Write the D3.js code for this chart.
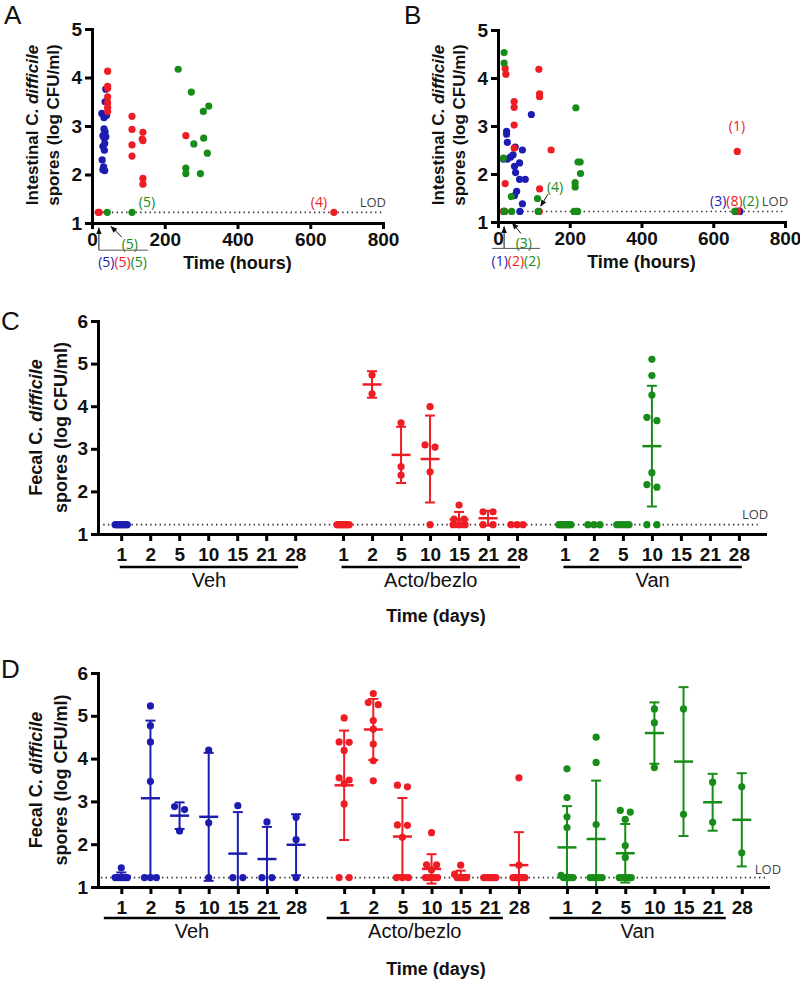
<!DOCTYPE html>
<html><head><meta charset="utf-8">
<script src="https://cdn.jsdelivr.net/npm/d3@7"></script>
<style>body{margin:0;background:#fff}svg{display:block}</style>
</head><body>
<svg id="chart" width="800" height="982"></svg>
<script>
// ---------------- DATA ----------------
const LOD = 1.22;
const hourTicks = [0, 200, 400, 600, 800];
const logTicksAB = [1, 2, 3, 4, 5];
const logTicksCD = [1, 2, 3, 4, 5, 6];
const days = ["1", "2", "5", "10", "15", "21", "28"];
const groups = ["Veh", "Acto/bezlo", "Van"];

// Panel A: [hours, log CFU/ml]
const aVeh = [[38,3.76],[36,3.50],[27,3.26],[33,3.17],[40,3.22],[33,2.94],[36,2.88],[30,2.80],[38,2.78],[33,2.76],[35,2.64],[30,2.58],[34,2.50],[28,2.30],[32,2.16],[30,2.10],[35,2.08]];
const aActo = [[17,1.22],[20,1.22],[43,4.13],[43,3.82],[43,3.78],[43,3.60],[43,3.48],[43,3.38],[43,3.30],[110,3.20],[110,2.93],[110,2.61],[110,2.38],[140,2.87],[138,2.73],[140,2.70],[140,1.92],[140,1.80],[258,2.80],[665,1.22]];
const aVan = [[42,1.22],[110,1.22],[237,4.17],[273,3.70],[258,2.13],[258,2.02],[280,2.63],[298,2.02],[306,3.30],[307,2.75],[321,3.41],[317,2.44]];

// Panel B
const bVeh = [[93,3.24],[24,2.89],[24,2.83],[26,2.66],[48,2.56],[68,2.50],[42,2.40],[35,2.35],[26,2.31],[15,2.31],[46,2.16],[49,2.03],[60,2.23],[60,1.89],[76,1.89],[52,1.64],[46,1.55],[68,1.38],[61,1.22],[17,1.22],[670,1.22],[672,1.22],[674,1.22]];
const bActo = [[20,4.20],[22,4.08],[45,3.51],[45,3.39],[45,3.02],[45,2.54],[20,1.80],[114,4.18],[116,3.67],[116,3.61],[148,2.50],[116,1.69],[15,1.22],[19,1.22],[115,1.22],[667,2.47],[662,1.22],[664,1.22],[666,1.22],[668,1.22]];
const bVan = [[17,4.53],[17,4.31],[15,2.33],[37,1.53],[110,1.49],[217,3.38],[223,2.25],[229,2.25],[230,2.01],[215,1.82],[215,1.73],[17,1.22],[38,1.22],[112,1.22],[212,1.22],[218,1.22],[222,1.22],[660,1.22]];

// Panel C: values per day (1,2,5,10,15,21,28)
const cVeh = [[1.22,1.22,1.22,1.22,1.22,1.22,1.22,1.22],[],[],[],[],[],[]];
const cActo = [[1.22,1.22,1.22,1.22,1.22,1.22,1.22,1.22],[4.73,4.29],[3.61,2.58,2.38],[3.99,3.09,3.04,2.46,1.22],[1.68,1.35,1.35,1.22,1.22,1.22],[1.52,1.52,1.22,1.22],[1.22,1.22,1.22]];
const cVan = [[1.22,1.22,1.22,1.22,1.22,1.22,1.22,1.22],[1.22,1.22,1.22],[1.22,1.22,1.22,1.22,1.22],[5.10,4.72,4.26,3.74,3.66,2.44,2.16,2.10,1.22,1.22],[],[],[]];

// Panel D
const dVeh = [[1.45,1.22,1.22,1.22,1.22,1.22,1.22],[5.23,4.77,4.39,3.47,1.22,1.22,1.22],[2.88,2.81,2.31],[4.20,2.50,1.22],[2.90,1.22,1.22],[2.52,1.22,1.22],[2.63,2.11,1.22]];
const dActo = [[4.95,4.39,4.38,4.19,3.55,3.50,3.42,2.94,1.22,1.22],[5.52,5.31,5.26,4.89,4.69,4.34,3.95,3.48],[3.38,3.34,2.45,2.44,2.16,1.22,1.22,1.22],[2.27,1.52,1.52,1.40,1.22,1.22,1.22,1.22,1.22],[1.51,1.30,1.22,1.22,1.22,1.22,1.22],[1.22,1.22,1.22,1.22,1.22,1.22],[3.55,1.51,1.22,1.22,1.22,1.22,1.22,1.22,1.22]];
const dVan = [[3.76,3.09,2.64,2.39,1.27,1.22,1.22,1.22,1.22,1.22],[4.50,3.91,2.46,1.22,1.22,1.22,1.22,1.22],[2.79,2.75,2.58,1.97,1.69,1.22,1.22,1.22,1.22,1.22],[5.16,4.84,3.79],[5.16,2.70],[3.45,2.51],[3.34,1.80]];

// annotation labels
const aCountsBelow = ["(5)", "(5)", "(5)"];
const bCountsBelow = ["(1)", "(2)", "(2)"];
const bCountsLOD = ["(3)", "(8)", "(2)"];

// ---------------- STYLE ----------------
const COL = ["#1c1cb0", "#ee1c24", "#188c18"];
const FONT = "'Liberation Sans', Arial, sans-serif";
const FONT2 = "'Open Sans', 'Liberation Sans', sans-serif";
const svg = d3.select("#chart");

function styleAxis(sel, size) {
  sel.selectAll("path.domain").attr("stroke", "#000").attr("stroke-width", 3).attr("stroke-linecap", "square");
  sel.selectAll(".tick line").attr("stroke", "#000").attr("stroke-width", 3);
  sel.selectAll(".tick text").attr("font-family", FONT).attr("font-weight", "bold")
    .attr("font-size", size).attr("fill", "#111");
}

function yTitle(g, cx1, cx2, cy, l1, size) {
  const t1 = g.append("text").attr("transform", `translate(${cx1},${cy}) rotate(-90)`)
    .attr("text-anchor", "middle").attr("dy", "0.35em")
    .attr("font-family", FONT).attr("font-weight", "bold").attr("font-size", size).attr("fill", "#111");
  t1.append("tspan").text(l1 + " C. ");
  t1.append("tspan").attr("font-style", "italic").text("difficile");
  g.append("text").attr("transform", `translate(${cx2},${cy}) rotate(-90)`)
    .attr("text-anchor", "middle").attr("dy", "0.35em")
    .attr("font-family", FONT).attr("font-weight", "bold").attr("font-size", size).attr("fill", "#111")
    .text("spores (log CFU/ml)");
}

function panelLetter(txt, x, y, size) {
  svg.append("text").attr("x", x).attr("y", y).attr("font-family", FONT)
    .attr("font-size", size).attr("fill", "#111").text(txt);
}

// arrow marker
svg.append("defs").append("marker").attr("id", "ah").attr("viewBox", "0 0 10 10")
  .attr("refX", 9).attr("refY", 5).attr("markerWidth", 7).attr("markerHeight", 7)
  .attr("orient", "auto-start-reverse")
  .append("path").attr("d", "M0,1 L10,5 L0,9 Z").attr("fill", "#111");

function arrow(g, x1, y1, x2, y2) {
  g.append("line").attr("x1", x1).attr("y1", y1).attr("x2", x2).attr("y2", y2)
    .attr("stroke", "#111").attr("stroke-width", 1).attr("marker-end", "url(#ah)");
}
function label(g, x, y, txt, color, size, anchor) {
  g.append("text").attr("x", x).attr("y", y).attr("dy", "0.35em")
    .attr("text-anchor", anchor || "middle").attr("font-family", FONT2)
    .attr("font-size", size).attr("fill", color).text(txt);
}
function multiLabel(g, x, y, parts, colors, size) {
  const t = g.append("text").attr("x", x).attr("y", y).attr("dy", "0.35em")
    .attr("text-anchor", "middle").attr("font-family", FONT2).attr("font-size", size);
  parts.forEach((p, i) => t.append("tspan").attr("fill", colors[i]).text(p));
}

// ---------------- PANELS A / B ----------------
function scatterPanel(cfg) {
  const g = svg.append("g");
  const x = d3.scaleLinear().domain([0, 800]).range(cfg.xr);
  const y = d3.scaleLinear().domain([1, 5]).range(cfg.yr);

  g.append("line").attr("x1", x(16)).attr("x2", x(800)).attr("y1", y(LOD)).attr("y2", y(LOD))
    .attr("stroke", "#333").attr("stroke-width", 1.6).attr("stroke-dasharray", "1.4,3.3");

  cfg.series.forEach((s, i) => {
    g.append("g").selectAll("circle").data(s).join("circle")
      .attr("cx", d => x(d[0])).attr("cy", d => y(d[1])).attr("r", 3.6).attr("fill", COL[i]);
  });

  g.append("g").attr("transform", `translate(0,${y(1)})`)
    .call(d3.axisBottom(x).tickValues(hourTicks).tickSize(6).tickSizeOuter(0).tickPadding(4))
    .call(styleAxis, 19);
  g.append("g").attr("transform", `translate(${x(0)},0)`)
    .call(d3.axisLeft(y).tickValues(logTicksAB).tickFormat(d3.format("d")).tickSize(7).tickSizeOuter(0).tickPadding(3))
    .call(styleAxis, 19);

  yTitle(g, x(0) - 60, x(0) - 39, (cfg.yr[0] + cfg.yr[1]) / 2 - 1, "Intestinal", 17);
  g.append("text").attr("x", (cfg.xr[0] + cfg.xr[1]) / 2).attr("y", y(1) + 46)
    .attr("text-anchor", "middle").attr("font-family", FONT).attr("font-weight", "bold")
    .attr("font-size", 18).attr("fill", "#111").text("Time (hours)");
  label(g, x(772), y(1.43), "LOD", "#444", 13);
  return { g, x, y };
}

// Panel A
{
  const { g, x, y } = scatterPanel({ xr: [92, 383], yr: [223, 29], series: [aVeh, aActo, aVan] });
  label(g, x(151), y(1.43), "(5)", COL[2], 14);
  label(g, x(624), y(1.43), "(4)", COL[1], 14);
  arrow(g, x(82), y(0.71), x(52), y(0.93));
  label(g, x(104), y(0.57), "(5)", COL[2], 14);
  arrow(g, x(19), y(0.44), x(19), y(0.9));
  g.append("line").attr("x1", x(19)).attr("x2", x(154)).attr("y1", y(0.44)).attr("y2", y(0.44))
    .attr("stroke", "#555").attr("stroke-width", 1);
  multiLabel(g, x(84), y(0.2), aCountsBelow, COL, 14);
  panelLetter("A", 4, 24, 26);
}
// Panel B
{
  const { g, x, y } = scatterPanel({ xr: [498, 785], yr: [222, 30], series: [bVeh, bActo, bVan] });
  label(g, x(666), y(2.99), "(1)", COL[1], 14);
  label(g, x(159), y(1.73), "(4)", COL[2], 14);
  arrow(g, x(139), y(1.58), x(119), y(1.33));
  multiLabel(g, x(659), y(1.43), bCountsLOD, COL, 14);
  arrow(g, x(64), y(0.76), x(40), y(0.98));
  label(g, x(72), y(0.56), "(3)", COL[2], 14);
  arrow(g, x(17), y(0.45), x(17), y(0.9));
  g.append("line").attr("x1", x(-17)).attr("x2", x(117)).attr("y1", y(0.45)).attr("y2", y(0.45))
    .attr("stroke", "#555").attr("stroke-width", 1);
  multiLabel(g, x(50), y(0.19), bCountsBelow, COL, 14);
  panelLetter("B", 404, 24, 26);
}

// ---------------- PANELS C / D ----------------
const GROUP_STEP = 7.65;

function layoutDots(vals, cx, y) {
  const sorted = vals.map(v => ({ v, py: y(v) })).sort((a, b) => a.py - b.py);
  const rows = [];
  sorted.forEach(p => {
    const r = rows[rows.length - 1];
    if (r && Math.abs(p.py - r[0].py) < 4.5) r.push(p); else rows.push([p]);
  });
  const out = [];
  rows.forEach(r => {
    const k = r.length;
    const sp = k > 1 ? Math.min(10, 12 / (k - 1)) : 0;
    r.forEach((p, j) => out.push({ x: cx + (j - (k - 1) / 2) * sp, y: p.py }));
  });
  return out;
}

function dayPanel(cfg) {
  const g = svg.append("g");
  const y = d3.scaleLinear().domain([1, 6]).range(cfg.yr);
  const x = d3.scaleLinear().domain([-0.8, 2 * GROUP_STEP + 6.9]).range(cfg.xr);
  const slots = [];
  groups.forEach((gr, gi) => days.forEach((d, di) => slots.push(gi * GROUP_STEP + di)));

  g.append("line").attr("x1", x(cfg.lod[0])).attr("x2", x(cfg.lod[1])).attr("y1", y(LOD)).attr("y2", y(LOD))
    .attr("stroke", "#333").attr("stroke-width", 1.6).attr("stroke-dasharray", "1.4,3.3");

  cfg.series.forEach((ser, gi) => {
    const col = COL[gi];
    ser.forEach((vals, di) => {
      if (!vals.length) return;
      const cx = x(gi * GROUP_STEP + di);
      const m = d3.mean(vals);
      const sd = vals.length > 1 ? d3.deviation(vals) : 0;
      const top = m + sd, bot = Math.max(1, m - sd);
      if (sd > 0) {
        g.append("line").attr("x1", cx).attr("x2", cx).attr("y1", y(top)).attr("y2", y(bot))
          .attr("stroke", col).attr("stroke-width", 2);
        g.append("line").attr("x1", cx - 5).attr("x2", cx + 5).attr("y1", y(top)).attr("y2", y(top))
          .attr("stroke", col).attr("stroke-width", 2);
        if (m - sd > 1) g.append("line").attr("x1", cx - 5).attr("x2", cx + 5).attr("y1", y(bot)).attr("y2", y(bot))
          .attr("stroke", col).attr("stroke-width", 2);
      }
      g.append("line").attr("x1", cx - 9.5).attr("x2", cx + 9.5).attr("y1", y(m)).attr("y2", y(m))
        .attr("stroke", col).attr("stroke-width", 2.5);
      g.append("g").selectAll("circle").data(layoutDots(vals, cx, y)).join("circle")
        .attr("cx", d => d.x).attr("cy", d => d.y).attr("r", 3.6).attr("fill", col);
    });
  });

  g.append("g").attr("transform", `translate(0,${y(1)})`)
    .call(d3.axisBottom(x).tickValues(slots).tickFormat((d, i) => days[i % 7]).tickSize(7).tickSizeOuter(0).tickPadding(cfg.tickPad))
    .call(styleAxis, 19);
  g.append("g").attr("transform", `translate(${x(-0.8)},0)`)
    .call(d3.axisLeft(y).tickValues(logTicksCD).tickFormat(d3.format("d")).tickSize(7).tickSizeOuter(0).tickPadding(3))
    .call(styleAxis, 19);

  groups.forEach((gr, gi) => {
    const a = x(gi * GROUP_STEP + cfg.under[0]), b = x(gi * GROUP_STEP + cfg.under[1]);
    g.append("line").attr("x1", a).attr("x2", b).attr("y1", cfg.underY).attr("y2", cfg.underY)
      .attr("stroke", "#000").attr("stroke-width", 2.5);
    g.append("text").attr("x", (a + b) / 2).attr("y", cfg.groupY).attr("text-anchor", "middle")
      .attr("font-family", FONT).attr("font-size", 20).attr("fill", "#111").text(gr);
  });

  label(g, x(cfg.lodText[0]), y(cfg.lodText[1]), "LOD", "#444", 13);
  yTitle(g, 36, 61, (cfg.yr[0] + cfg.yr[1]) / 2, "Fecal", 18);
  g.append("text").attr("x", 436).attr("y", cfg.timeY).attr("text-anchor", "middle")
    .attr("font-family", FONT).attr("font-weight", "bold").attr("font-size", 18).attr("fill", "#111")
    .text("Time (days)");
}

dayPanel({ yr: [534, 321], xr: [98, 765], series: [cVeh, cActo, cVan], lod: [-0.62, 21.95],
  under: [-0.05, 6.1], underY: 567, groupY: 587, timeY: 622, tickPad: 7, lodText: [21.86, 1.45] });
panelLetter("C", 1, 330, 26);

dayPanel({ yr: [887, 673], xr: [98, 768], series: [dVeh, dActo, dVan], lod: [-0.7, 22.15],
  under: [-0.6, 5.45], underY: 918, groupY: 938, timeY: 975, tickPad: 7, lodText: [22.2, 1.42] });
panelLetter("D", 1, 678, 26);
</script>
</body></html>
